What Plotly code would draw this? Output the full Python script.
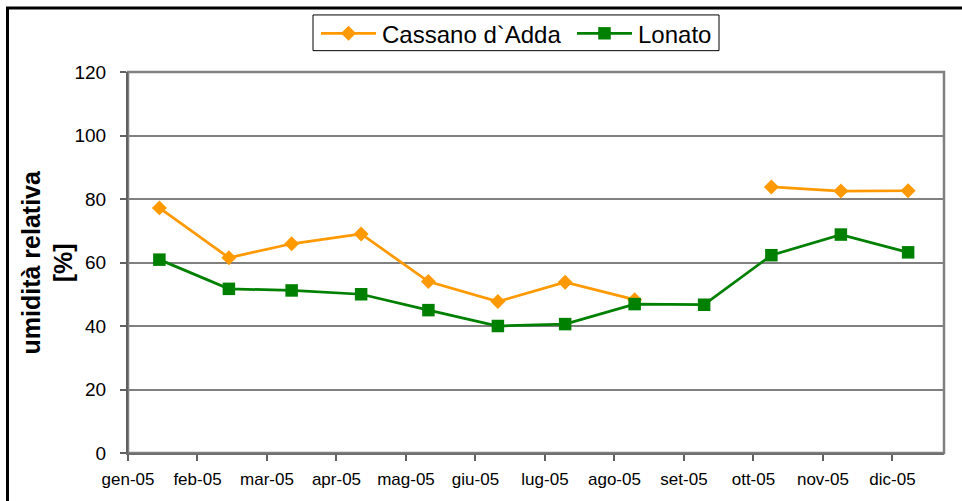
import pandas as pd
import plotly.graph_objects as go

# Monthly mean relative humidity (%) for 2005 at two stations
dates = ["2005-01-15", "2005-02-15", "2005-03-15", "2005-04-15", "2005-05-15", "2005-06-15",
         "2005-07-15", "2005-08-15", "2005-09-15", "2005-10-15", "2005-11-15", "2005-12-15"]
cassano = [77.2, 61.5, 65.9, 69.0, 54.0, 47.7, 53.8, 48.3, None, 83.8, 82.5, 82.6]
lonato = [60.9, 51.7, 51.2, 50.0, 45.0, 40.0, 40.6, 46.9, 46.7, 62.3, 68.8, 63.2]

month_labels = ["gen-05", "feb-05", "mar-05", "apr-05", "mag-05", "giu-05",
                "lug-05", "ago-05", "set-05", "ott-05", "nov-05", "dic-05"]
y_ticks = [0, 20, 40, 60, 80, 100, 120]

FONT = "Liberation Sans, Arial, sans-serif"
ORANGE = "#FF9900"
GREEN = "#008000"
GRID = "#808080"

W, H = 962, 501
M_L, M_R, M_T, M_B = 128, 18, 72, 45
PLOT_W = W - M_L - M_R
PLOT_H = H - M_T - M_B


def px(x):
    """Page pixel column -> paper x."""
    return (x - M_L) / PLOT_W


def py(y):
    """Page pixel row -> paper y."""
    return (H - M_B - y) / PLOT_H


# date axis with a major unit of 31 days starting on 1 January
tick_dates = pd.date_range("2005-01-01", periods=len(month_labels), freq="31D")

fig = go.Figure()
fig.add_trace(go.Scatter(
    x=dates, y=cassano, name="Cassano d`Adda", mode="lines+markers",
    connectgaps=False,
    line=dict(color=ORANGE, width=2.75),
    marker=dict(symbol="diamond", size=11.5, color=ORANGE),
))
fig.add_trace(go.Scatter(
    x=dates, y=lonato, name="Lonato", mode="lines+markers",
    line=dict(color=GREEN, width=2.75),
    marker=dict(symbol="square", size=12.5, color=GREEN),
))

# legend box drawn by hand so the sample lines can be long, as in Excel
shapes = [
    # plot-area border
    dict(type="rect", xref="paper", yref="paper", x0=0, x1=1, y0=0, y1=1,
         line=dict(color="#808080", width=2.5), layer="below"),
    # outer chart frame
    dict(type="rect", xref="paper", yref="paper", x0=px(7.5), x1=1.2, y0=-0.3, y1=py(7.5),
         line=dict(color="black", width=3)),
    # legend frame
    dict(type="rect", xref="paper", yref="paper", x0=px(313), x1=px(719), y0=py(50.5), y1=py(14.5),
         line=dict(color="black", width=1), fillcolor="white"),
]
annotations = [
    dict(text="<b>umidità relativa<br>[%]</b>", textangle=-90,
         xref="paper", yref="paper", x=px(47), y=0.5,
         xanchor="center", yanchor="middle", showarrow=False,
         font=dict(family=FONT, size=25, color="black")),
]

legend_items = [
    ("Cassano d`Adda", ORANGE, "diamond", 321, 376, 380),
    ("Lonato", GREEN, "square", 577, 632, 636),
]
ly = 33
for name, color, symbol, lx0, lx1, tx in legend_items:
    shapes.append(dict(type="line", xref="paper", yref="paper",
                       x0=px(lx0), x1=px(lx1), y0=py(ly), y1=py(ly),
                       line=dict(color=color, width=2.75)))
    cx = (lx0 + lx1) / 2
    if symbol == "diamond":
        path = (f"M {px(cx)},{py(ly - 7.5)} L {px(cx + 7.5)},{py(ly)} "
                f"L {px(cx)},{py(ly + 7.5)} L {px(cx - 7.5)},{py(ly)} Z")
    else:
        path = (f"M {px(cx - 6.25)},{py(ly - 6.25)} L {px(cx + 6.25)},{py(ly - 6.25)} "
                f"L {px(cx + 6.25)},{py(ly + 6.25)} L {px(cx - 6.25)},{py(ly + 6.25)} Z")
    shapes.append(dict(type="path", xref="paper", yref="paper", path=path,
                       fillcolor=color, line=dict(width=0)))
    annotations.append(dict(text=name, xref="paper", yref="paper",
                            x=px(tx), y=py(ly + 1), xanchor="left", yanchor="middle",
                            showarrow=False,
                            font=dict(family=FONT, size=24, color="black")))

fig.update_layout(
    width=W, height=H,
    margin=dict(l=M_L, r=M_R, t=M_T, b=M_B),
    paper_bgcolor="white", plot_bgcolor="white",
    font=dict(family=FONT, color="black"),
    showlegend=False,
    xaxis=dict(
        type="date", range=["2005-01-01", "2005-12-31"],
        tickmode="array", tickvals=list(tick_dates), ticktext=month_labels,
        ticks="outside", ticklen=6, tickwidth=1.5, tickcolor="#606060",
        tickfont=dict(family=FONT, size=17, color="black"),
        ticklabelstandoff=4,
        showgrid=False, zeroline=False,
        showline=True, linecolor="#707070", linewidth=2,
    ),
    yaxis=dict(
        range=[0, 120], tickvals=y_ticks,
        ticks="outside", ticklen=6, tickwidth=1.5, tickcolor="#606060",
        tickfont=dict(family=FONT, size=19, color="black"),
        ticklabelstandoff=10,
        showgrid=True, gridcolor=GRID, gridwidth=1.5,
        zeroline=False,
        showline=True, linecolor="#606060", linewidth=2,
    ),
    shapes=shapes,
    annotations=annotations,
)

fig.write_html("out.html")
